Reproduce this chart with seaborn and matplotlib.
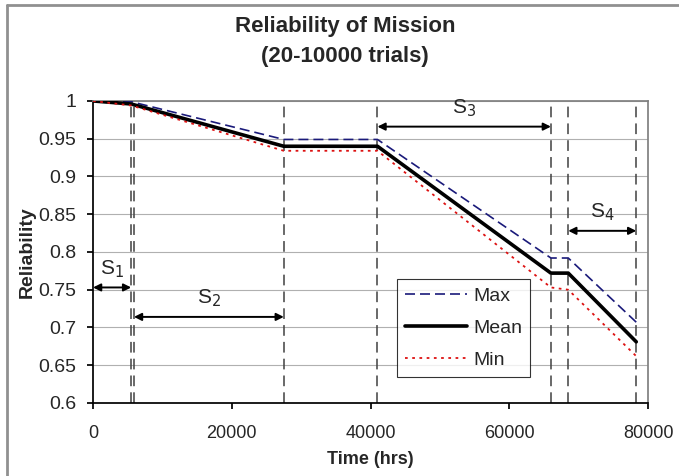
import matplotlib
matplotlib.use("Agg")
import matplotlib.pyplot as plt
from matplotlib.lines import Line2D
import pandas as pd
import seaborn as sns

# valeurs
time_hrs = [0, 5500, 27500, 41000, 66000, 68500, 78300]
rel_max = [1.0, 0.999, 0.949, 0.949, 0.792, 0.792, 0.707]
rel_mean = [1.0, 0.996, 0.940, 0.940, 0.772, 0.772, 0.681]
rel_min = [1.0, 0.994, 0.934, 0.934, 0.753, 0.750, 0.662]

phase_lines = [5500, 5900, 27500, 41000, 66000, 68500, 78300]
phase_names = ["S$_1$", "S$_2$", "S$_3$", "S$_4$"]
phase_start = [0, 5900, 41000, 68500]
phase_end = [5500, 27500, 66000, 78300]
phase_y = [0.753, 0.714, 0.966, 0.828]

df = pd.DataFrame({"Time": time_hrs * 3,
                   "Reliability": rel_max + rel_mean + rel_min,
                   "Serie": ["Max"] * 7 + ["Mean"] * 7 + ["Min"] * 7})

sns.set_theme(style="white")
plt.rcParams['font.family'] = ['Liberation Sans', 'DejaVu Sans']

fig = plt.figure(figsize=(6.79, 4.76), dpi=100)
ax = fig.add_axes([0.137, 0.1534, 0.8174, 0.6345])

for y in [0.65, 0.7, 0.75, 0.8, 0.85, 0.9, 0.95, 1.0]:
    ax.axhline(y, color='#b0b0b0', lw=0.8, zorder=0)

for x in phase_lines:
    ax.axvline(x, color='#404040', lw=1.1, ls=(0, (7, 4)), zorder=1)

styles = {"Max": dict(color='#1a1a7a', lw=1.2, ls=(0, (6, 3))),
          "Mean": dict(color='black', lw=2.6, ls='-'),
          "Min": dict(color='#dd1111', lw=1.3, ls=(0, (1.5, 2.5)))}
for name, sub in df.groupby("Serie", sort=False):
    sns.lineplot(data=sub, x="Time", y="Reliability", ax=ax, label=name,
                 zorder=3, **styles[name])

for name, x0, x1, y in zip(phase_names, phase_start, phase_end, phase_y):
    ax.annotate("", xy=(x0, y), xytext=(x1, y),
                arrowprops=dict(arrowstyle='<|-|>', color='black', lw=1.4,
                                mutation_scale=11, shrinkA=0, shrinkB=0))
    ax.text((x0 + x1) / 2, y + 0.01, name, ha='center', va='bottom', fontsize=15)

ax.set_xlim(0, 80000)
ax.set_ylim(0.6, 1.0)
ax.set_xticks([0, 20000, 40000, 60000, 80000])
ax.set_yticks([0.6, 0.65, 0.7, 0.75, 0.8, 0.85, 0.9, 0.95, 1.0])
ax.set_yticklabels(["0.6", "0.65", "0.7", "0.75", "0.8", "0.85", "0.9", "0.95", "1"])
ax.tick_params(axis='x', labelsize=13, length=4, pad=12, direction='out', color='black', bottom=True)
ax.tick_params(axis='y', labelsize=14, length=4, pad=8, direction='out', color='black', left=True)
for side in ['top', 'right']:
    ax.spines[side].set_color('#808080')
for side in ['bottom', 'left']:
    ax.spines[side].set_color('black')

ax.set_xlabel("Time (hrs)", fontsize=13, fontweight='bold', labelpad=6)
ax.set_ylabel("Reliability", fontsize=14, fontweight='bold', labelpad=2)
fig.text(0.508, 0.945, "Reliability of Mission", ha='center', va='center',
         fontsize=16, fontweight='bold')
fig.text(0.508, 0.882, "(20-10000 trials)", ha='center', va='center',
         fontsize=16, fontweight='bold')

leg = ax.legend(loc='upper left', bbox_to_anchor=(0.548, 0.41), fontsize=14,
                frameon=True, fancybox=False, edgecolor='black', handlelength=3.2,
                borderpad=0.4, labelspacing=0.75, handletextpad=0.3, borderaxespad=0)
leg.get_frame().set_linewidth(0.8)

# cadre gris du graphique (bords gauche et haut seulement visibles)
fig.add_artist(Line2D([7 / 679, 7 / 679], [0, 1 - 5 / 476], color='#909090', lw=2))
fig.add_artist(Line2D([7 / 679, 1], [1 - 5 / 476, 1 - 5 / 476], color='#909090', lw=2))

fig.savefig("out.png", dpi=100)
